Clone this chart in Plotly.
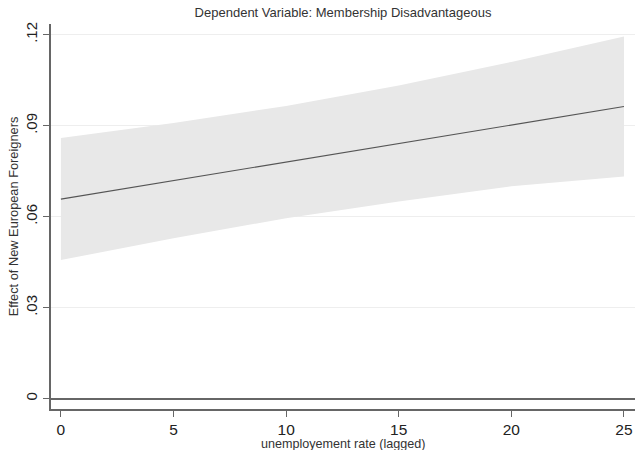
import plotly.graph_objects as go

unemp = [0, 5, 10, 15, 20, 25]
effect = [0.0658, 0.0719, 0.0780, 0.0841, 0.0902, 0.0963]
ci_upper = [0.0859, 0.0909, 0.0965, 0.1032, 0.1110, 0.1194]
ci_lower = [0.0457, 0.0529, 0.0595, 0.0650, 0.0700, 0.0732]

y_tickvals = [0, 0.03, 0.06, 0.09, 0.12]
y_ticktext = ["0", ".03", ".06", ".09", ".12"]
x_tickvals = [0, 5, 10, 15, 20, 25]

FONT = "Liberation Sans, Arial, Helvetica, sans-serif"

fig = go.Figure()
fig.add_trace(go.Scatter(x=unemp, y=ci_lower, mode="lines", line=dict(width=0, color="#e8e8e8"),
                         showlegend=False, hoverinfo="skip"))
fig.add_trace(go.Scatter(x=unemp, y=ci_upper, mode="lines", line=dict(width=0, color="#e8e8e8"),
                         fill="tonexty", fillcolor="#e8e8e8", showlegend=False, hoverinfo="skip"))
fig.add_trace(go.Scatter(x=unemp, y=effect, mode="lines", line=dict(width=1.2, color="#555555"),
                         showlegend=False))

fig.update_layout(
    width=635, height=450,
    margin=dict(l=51, r=0, t=24, b=41),
    paper_bgcolor="white", plot_bgcolor="white",
    font=dict(family=FONT, color="#222222"),
    title=dict(text="Dependent Variable: Membership Disadvantageous",
               x=0.5, xref="paper", xanchor="center",
               y=1 - 12 / 450, yref="container", yanchor="middle",
               font=dict(size=13, color="#333333", family=FONT)),
    xaxis=dict(range=[-0.44, 25.49], tickvals=x_tickvals, showgrid=False, zeroline=False,
               showline=True, linecolor="#666666", linewidth=1.5,
               ticks="outside", ticklen=6, tickwidth=1.2, tickcolor="#666666",
               tickfont=dict(size=15.5, color="#222222")),
    yaxis=dict(range=[-0.0034, 0.1235], tickvals=y_tickvals, ticktext=y_ticktext, tickangle=-90,
               showgrid=True, gridcolor="#eeeeee", gridwidth=1,
               zeroline=True, zerolinecolor="#666666", zerolinewidth=2.2,
               showline=True, linecolor="#666666", linewidth=1.5,
               ticks="outside", ticklen=6, tickwidth=1.2, tickcolor="#666666",
               tickfont=dict(size=15, color="#222222"),
               title=dict(text="Effect of New European Foreigners", font=dict(size=12.8, color="#333333"),
                          standoff=2)),
    annotations=[dict(text="unemployement rate (lagged)", xref="paper", yref="paper",
                      x=0.5, y=-(444 - 409) / 385, xanchor="center", yanchor="middle",
                      showarrow=False, font=dict(size=12.6, color="#333333", family=FONT))],
)

fig.write_html("out.html")
